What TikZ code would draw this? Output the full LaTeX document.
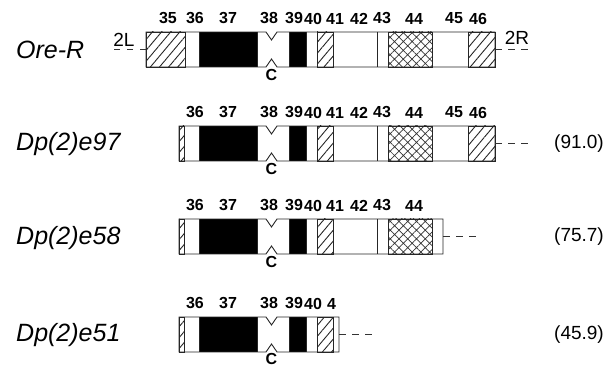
\documentclass[tikz,border=0pt]{standalone}
\usepackage{fontspec}
\setmainfont{Liberation Sans}
\usetikzlibrary{patterns.meta}

\begin{document}
\begin{tikzpicture}[x=1pt,y=-1pt,
    box/.style={draw=black!85,line width=0.9pt},
    hatch/.style={box,pattern={Lines[angle=50,distance=7pt,line width=0.9pt]},pattern color=black!85},
    cross/.style={box,pattern={Hatch[angle=45,distance=6.2pt,line width=0.7pt]},pattern color=black!80},
    tail/.style={draw=black!80,line width=0.9pt,dash pattern=on 6.5pt off 6.5pt},
    band/.style={font=\fontsize{16}{16}\selectfont\bfseries,inner sep=0pt},
    strain/.style={font=\fontsize{25}{25}\selectfont\itshape,inner sep=0pt,anchor=west},
    size/.style={font=\fontsize{19}{19}\selectfont,inner sep=0pt}]
\useasboundingbox (0,0) rectangle (616,366);

% Ore-R, the full arm, top of the bar at y=32
\begin{scope}[shift={(0,32)}]
    \draw[hatch] (146,0) rectangle (185,35);  % 35
    \fill (199,0) rectangle (257,35);         % 37
    \fill (289,0) rectangle (306,35);         % 39
    \draw[hatch] (317,0) rectangle (333,35);
    \draw[box] (377,0) -- (377,35);
    \draw[cross] (388,0) rectangle (432,35);  % 44
    \draw[box] (468,0) -- (468,35);
    \draw[hatch] (468,0) rectangle (495,35);  % 46
    \draw[box] (146,0) -- (266,0) -- (271.5,8) -- (277,0) -- (495,0) -- (495,35)
        -- (277,35) -- (271.5,27) -- (266,35) -- (146,35) -- cycle;
    \draw[box] (199,0) -- (199,35) (257,0) -- (257,35) (289,0) -- (289,35) (306,0) -- (306,35);
    \coordinate (oL) at (146,17.5); \coordinate (oLt) at (112,17.5);
    \coordinate (oR) at (495,17.5); \coordinate (oRt) at (534,17.5);
    \draw[tail] (oL) -- (oLt);
    \draw[tail] (oR) -- (oRt);
    \node[size] (armL) at (124,8) {2L};
    \node[size] (armR) at (517,6) {2R};
    \node[strain] (oreR) at (16,18) {Ore-R};
    \node[band] (o35) at (168,-13.5) {35};
    \node[band] (o36) at (195,-13.5) {36};
    \node[band] (o37) at (228,-13.5) {37};
    \node[band] (o38) at (269,-13.5) {38};
    \node[band] (o39) at (294,-13.5) {39};
    \node[band] (o40) at (313,-13.5) {40};
    \node[band] (o41) at (335,-13.5) {41};
    \node[band] (o42) at (359,-13.5) {42};
    \node[band] (o43) at (382,-13.5) {43};
    \node[band] (o44) at (414,-13.5) {44};
    \node[band] (o45) at (454,-13.5) {45};
    \node[band] (o46) at (478,-13.5) {46};
    \node[band] (oC) at (271.5,43) {C};
\end{scope}

% Dp(2)e97
\begin{scope}[shift={(0,126)}]
    \draw[hatch] (179,0) rectangle (184,35);
    \fill (199,0) rectangle (257,35);
    \fill (289,0) rectangle (306,35);
    \draw[hatch] (317,0) rectangle (333,35);
    \draw[box] (377,0) -- (377,35);
    \draw[cross] (388,0) rectangle (432,35);
    \draw[hatch] (468,0) rectangle (495,35);
    \draw[box] (179,0) -- (266,0) -- (271.5,8) -- (277,0) -- (495,0) -- (495,35)
        -- (277,35) -- (271.5,27) -- (266,35) -- (179,35) -- cycle;
    \draw[box] (199,0) -- (199,35) (257,0) -- (257,35) (289,0) -- (289,35) (306,0) -- (306,35);
    \coordinate (aR) at (495,17.5); \coordinate (aRt) at (528,17.5);
    \draw[tail] (aR) -- (aRt);
    \node[strain] (e97) at (16,18) {Dp(2)e97};
    \node[size] (s97) at (579,17.5) {(91.0)};
    \node[band] (a36) at (195,-13.5) {36};
    \node[band] (a37) at (228,-13.5) {37};
    \node[band] (a38) at (269,-13.5) {38};
    \node[band] (a39) at (294,-13.5) {39};
    \node[band] (a40) at (313,-13.5) {40};
    \node[band] (a41) at (335,-13.5) {41};
    \node[band] (a42) at (359,-13.5) {42};
    \node[band] (a43) at (382,-13.5) {43};
    \node[band] (a44) at (414,-13.5) {44};
    \node[band] (a45) at (454,-13.5) {45};
    \node[band] (a46) at (478,-13.5) {46};
    \node[band] (aC) at (271.5,43) {C};
\end{scope}

% Dp(2)e58
\begin{scope}[shift={(0,219)}]
    \draw[hatch] (179,0) rectangle (184,35);
    \fill (199,0) rectangle (257,35);
    \fill (289,0) rectangle (306,35);
    \draw[hatch] (317,0) rectangle (333,35);
    \draw[box] (377,0) -- (377,35);
    \draw[cross] (388,0) rectangle (432,35);
    \draw[box] (179,0) -- (266,0) -- (271.5,8) -- (277,0) -- (443,0) -- (443,35)
        -- (277,35) -- (271.5,27) -- (266,35) -- (179,35) -- cycle;
    \draw[box] (199,0) -- (199,35) (257,0) -- (257,35) (289,0) -- (289,35) (306,0) -- (306,35);
    \coordinate (bR) at (443,17.5); \coordinate (bRt) at (477,17.5);
    \draw[tail] (bR) -- (bRt);
    \node[strain] (e58) at (16,19) {Dp(2)e58};
    \node[size] (s58) at (579,17.5) {(75.7)};
    \node[band] (b36) at (195,-13.5) {36};
    \node[band] (b37) at (228,-13.5) {37};
    \node[band] (b38) at (269,-13.5) {38};
    \node[band] (b39) at (294,-13.5) {39};
    \node[band] (b40) at (313,-13.5) {40};
    \node[band] (b41) at (335,-13.5) {41};
    \node[band] (b42) at (359,-13.5) {42};
    \node[band] (b43) at (382,-13.5) {43};
    \node[band] (b44) at (414,-13.5) {44};
    \node[band] (bC) at (271.5,43) {C};
\end{scope}

% Dp(2)e51
\begin{scope}[shift={(0,317)}]
    \draw[hatch] (179,0) rectangle (184,35);
    \fill (199,0) rectangle (257,35);
    \fill (289,0) rectangle (306,35);
    \draw[hatch] (317,0) rectangle (333,35);
    \draw[box] (179,0) -- (266,0) -- (271.5,8) -- (277,0) -- (339,0) -- (339,35)
        -- (277,35) -- (271.5,27) -- (266,35) -- (179,35) -- cycle;
    \draw[box] (199,0) -- (199,35) (257,0) -- (257,35) (289,0) -- (289,35) (306,0) -- (306,35);
    \coordinate (cR) at (339,17.5); \coordinate (cRt) at (373,17.5);
    \draw[tail] (cR) -- (cRt);
    \node[strain] (e51) at (16,18) {Dp(2)e51};
    \node[size] (s51) at (579,17.5) {(45.9)};
    \node[band] (c36) at (195,-13.5) {36};
    \node[band] (c37) at (228,-13.5) {37};
    \node[band] (c38) at (269,-13.5) {38};
    \node[band] (c39) at (294,-13.5) {39};
    \node[band] (c40) at (313,-13.5) {40};
    \node[band,anchor=west] (c41) at (327,-13.5) {4};
    \node[band] (cC) at (271.5,41.5) {C};
\end{scope}
\end{tikzpicture}
\end{document}
